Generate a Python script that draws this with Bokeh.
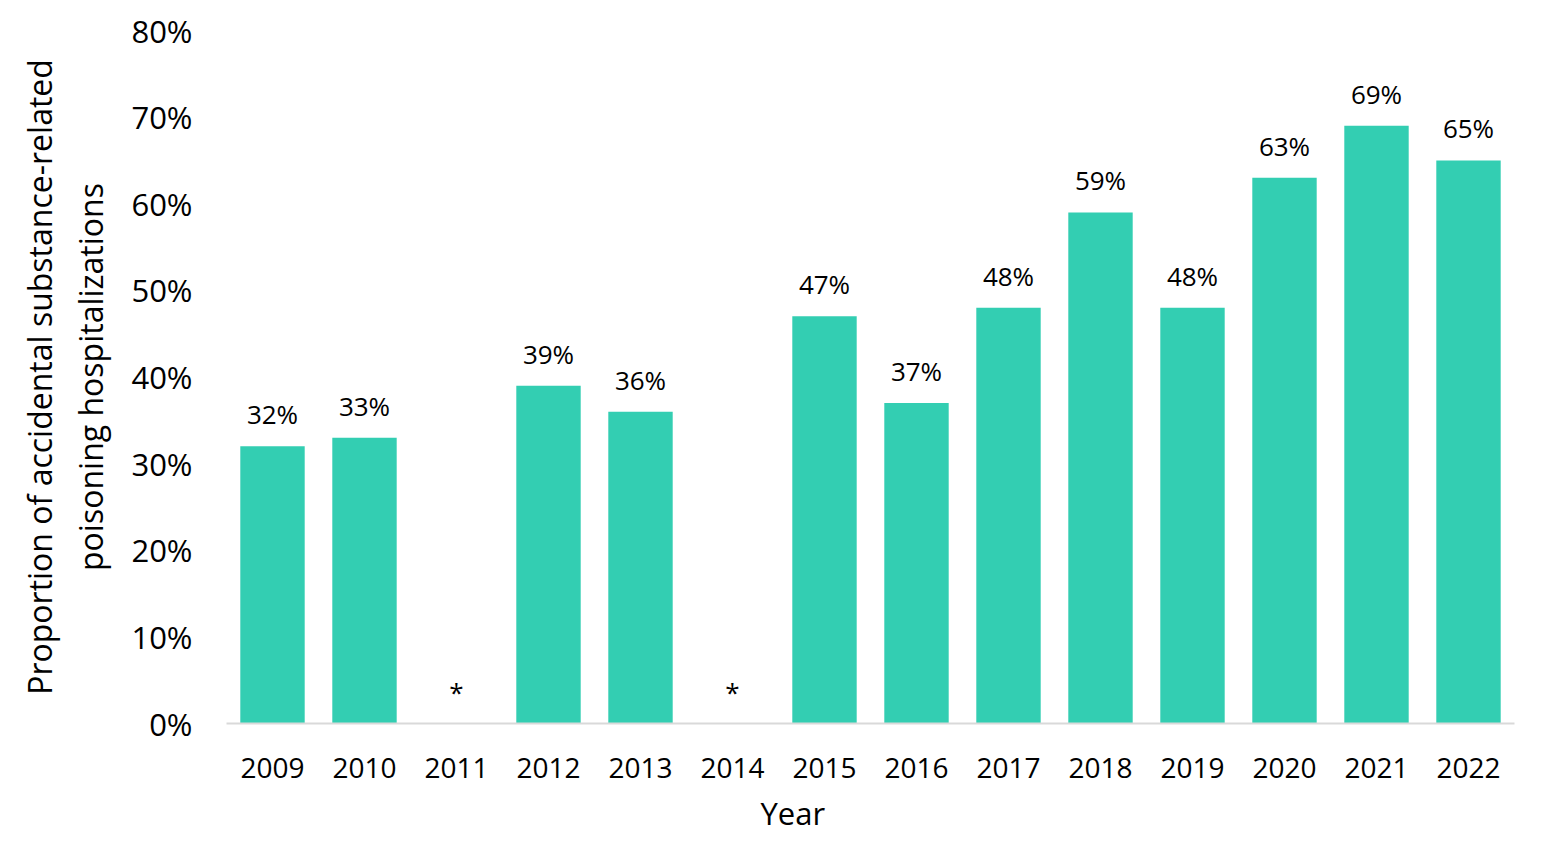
from bokeh.plotting import figure
from bokeh.models import ColumnDataSource, LabelSet, Title, NumeralTickFormatter, FixedTicker, Range1d
from bokeh.core.properties import value
from bokeh.embed import file_html
from bokeh.resources import INLINE

years = ["2009", "2010", "2011", "2012", "2013", "2014", "2015", "2016",
         "2017", "2018", "2019", "2020", "2021", "2022"]
values = [0.32, 0.33, None, 0.39, 0.36, None, 0.47, 0.37, 0.48, 0.59, 0.48, 0.63, 0.69, 0.65]
y_ticks = [0, 0.1, 0.2, 0.3, 0.4, 0.5, 0.6, 0.7, 0.8]

bar_vals = [v if v is not None else 0 for v in values]
labels = [f"{round(v*100)}%" if v is not None else "*" for v in values]

src = ColumnDataSource(dict(x=years, top=bar_vals, label=labels))

FONT = "Open Sans"
p = figure(x_range=years, y_range=Range1d(0, 0.8), width=1557, height=843,
           output_backend="svg", toolbar_location=None,
           min_border_left=226, min_border_right=43, min_border_top=30, min_border_bottom=119)
p.outline_line_color = None
p.grid.grid_line_color = None
p.background_fill_color = "white"

p.vbar(x="x", top="top", width=0.7, source=src, fill_color="#33CEB2", line_color=None)

ls = LabelSet(x="x", y="top", text="label", source=src, text_align="center",
              text_baseline="alphabetic", y_offset=22, text_font=value(FONT),
              text_font_size="26px", text_color="black")
p.add_layout(ls)

p.yaxis.ticker = FixedTicker(ticks=y_ticks)
p.yaxis.formatter = NumeralTickFormatter(format="0%")
p.yaxis.axis_line_color = None
p.yaxis.major_tick_line_color = None
p.yaxis.minor_tick_line_color = None
p.yaxis.major_label_text_font = FONT
p.yaxis.major_label_text_font_size = "31px"
p.yaxis.major_label_text_color = "black"
p.yaxis.major_label_standoff = 28
p.yaxis.axis_label = "Proportion of accidental substance-related\npoisoning hospitalizations"
p.yaxis.axis_label_text_font = FONT
p.yaxis.axis_label_text_font_size = "32px"
p.yaxis.axis_label_text_font_style = "normal"
p.yaxis.axis_label_text_color = "black"
p.yaxis.axis_label_standoff = 16

p.xaxis.axis_line_color = "#D9D9D9"
p.xaxis.axis_line_width = 2
p.xaxis.major_tick_line_color = None
p.xaxis.minor_tick_line_color = None
p.xaxis.major_label_text_font = FONT
p.xaxis.major_label_text_font_size = "28px"
p.xaxis.major_label_text_color = "black"
p.xaxis.major_label_standoff = 28

# x-axis title, set slightly left of centre as in the original
xtitle = Title(text="Year", align="left", offset=534, standoff=19,
               text_font=FONT, text_font_size="31px", text_font_style="normal",
               text_color="black")
p.add_layout(xtitle, "below")

open("out.html", "w").write(file_html(p, INLINE))
